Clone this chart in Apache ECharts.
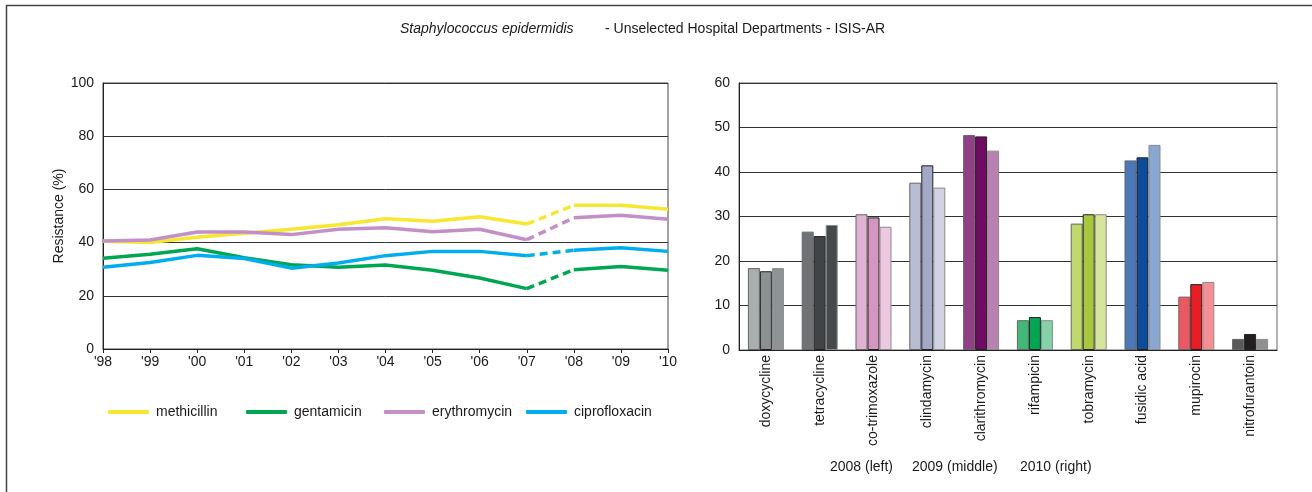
<!DOCTYPE html>
<html><head><meta charset="utf-8">
<script src="https://cdn.jsdelivr.net/npm/echarts@6/dist/echarts.min.js"></script>
<style>html,body{margin:0;padding:0;background:#fff}#c{width:1312px;height:492px}</style>
</head><body><div id="c"></div>
<script>
// ---- data ----
const years = ["'98","'99","'00","'01","'02","'03","'04","'05","'06","'07","'08","'09","'10"];
const drugNames = ['methicillin','gentamicin','erythromycin','ciprofloxacin'];
const methicillin   = [40.5,40.0,42.0,43.5,45.0,46.7,49.0,48.0,49.7,47.0,54.0,54.0,52.5];
const gentamicin    = [34.1,35.6,37.7,34.3,31.7,30.7,31.6,29.6,26.7,22.7,29.8,31.0,29.6];
const erythromycin  = [40.6,41.0,44.0,44.0,43.0,45.0,45.6,44.1,45.0,41.1,49.3,50.3,48.8];
const ciprofloxacin = [30.7,32.5,35.2,34.0,30.4,32.3,35.1,36.7,36.7,35.1,37.1,38.1,36.7];

const antibiotics = ['doxycycline','tetracycline','co-trimoxazole','clindamycin','clarithromycin','rifampicin','tobramycin','fusidic acid','mupirocin','nitrofurantoin'];
const yearLabels = ['2008','2009','2010'];
const r2008 = [18.4,26.6,30.5,37.6,48.3,6.7,28.4,42.6,12.0,2.5];
const r2009 = [17.7,25.6,29.8,41.5,48.0,7.4,30.5,43.3,14.8,3.6];
const r2010 = [18.4,28.1,27.7,36.5,44.8,6.7,30.5,46.1,15.3,2.5];

const leftTicks = [0,20,40,60,80,100];
const rightTicks = [0,10,20,30,40,50,60];

// ---- styles ----
const FONT = "'Liberation Sans', Arial, sans-serif";
const TXT = '#1a1a1a';
const lineColors = ['#f7e731','#00a651','#c290c6','#00aeef'];
const barPalette = [
  ['#a9aeae','#8b9192','#8e9496'],
  ['#707375','#404447','#46494c'],
  ['#e0b1d1','#d595c1','#ecc9e1'],
  ['#b9bdd4','#a2a8c6','#d1d3e2'],
  ['#913f87','#6f0b63','#b981b2'],
  ['#40b977','#00a651','#84d3a7'],
  ['#c1d96b','#a8c83c','#d6e59c'],
  ['#4b78b8','#0d4c9c','#88a7d1'],
  ['#ef5760','#ec1c24','#f58f94'],
  ['#5a5a5a','#231f20','#909090']
];
const barBorders = ['#666','#222','#8a8a8a'];

const chart = echarts.init(document.getElementById('c'), null, {renderer:'canvas'});
const drugData = [methicillin, gentamicin, erythromycin, ciprofloxacin];
const series = [];
drugData.forEach((vals, i) => {
  const name = drugNames[i];
  const style = {color: lineColors[i], width: 3.5};
  series.push({name, type:'line', xAxisIndex:0, yAxisIndex:0, symbol:'none', lineStyle:style, itemStyle:{color:lineColors[i]},
    data: vals.map((v,k)=> k<=9 ? v : null)});
  series.push({name, type:'line', xAxisIndex:0, yAxisIndex:0, symbol:'none', lineStyle:Object.assign({}, style, {type:[8,5]}),
    data: vals.map((v,k)=> (k===9||k===10) ? v : null)});
  series.push({name, type:'line', xAxisIndex:0, yAxisIndex:0, symbol:'none', lineStyle:style,
    data: vals.map((v,k)=> k>=10 ? v : null)});
});
[r2008, r2009, r2010].forEach((vals, j) => {
  series.push({name: yearLabels[j], type:'bar', xAxisIndex:1, yAxisIndex:1, barWidth:12, barGap:'0%',
    itemStyle:{color: p => barPalette[p.dataIndex][j], borderColor: barBorders[j], borderWidth:1},
    data: vals});
});

const legendLefts = [108, 246, 384, 526];
const legends = drugNames.map((n,i)=>({
  data:[n], left: legendLefts[i], top: 405, padding:0, icon:'roundRect', itemWidth:41, itemHeight:4, itemGap:0,
  textStyle:{fontFamily:FONT, fontSize:14, color:TXT, padding:[0,0,0,2]}, selectedMode:false
}));

const option = {
  animation:false,
  backgroundColor:'#fff',
  textStyle:{fontFamily:FONT},
  legend: legends,
  grid:[
    {left:103, right:644, top:83, bottom:143, show:true, borderColor:'#444', borderWidth:1, backgroundColor:'transparent'},
    {left:739, right:35, top:83, bottom:142, show:true, borderColor:'#666', borderWidth:1, backgroundColor:'transparent'}
  ],
  xAxis:[
    {type:'category', gridIndex:0, data:years, boundaryGap:false,
     axisLine:{lineStyle:{color:'#222'}}, axisTick:{length:4, lineStyle:{color:'#222'}},
     axisLabel:{color:TXT, fontSize:14, margin:6, fontFamily:FONT}, splitLine:{show:false}},
    {type:'category', gridIndex:1, data:antibiotics, boundaryGap:true,
     axisLine:{lineStyle:{color:'#222'}}, axisTick:{length:5, lineStyle:{color:'#222'}},
     axisLabel:{color:TXT, fontSize:14, rotate:90, margin:5, fontFamily:FONT, interval:0}, splitLine:{show:false}}
  ],
  yAxis:[
    {type:'value', gridIndex:0, min:leftTicks[0], max:leftTicks[leftTicks.length-1], interval:20,
     name:'Resistance (%)', nameLocation:'middle', nameGap:37, nameTextStyle:{color:TXT, fontSize:14, fontFamily:FONT},
     axisLine:{show:true, lineStyle:{color:'#222'}}, axisTick:{show:false},
     axisLabel:{color:TXT, fontSize:14, margin:9, fontFamily:FONT},
     splitLine:{lineStyle:{color:'#333', width:1}}},
    {type:'value', gridIndex:1, min:rightTicks[0], max:rightTicks[rightTicks.length-1], interval:10,
     axisLine:{show:true, lineStyle:{color:'#222'}}, axisTick:{show:false},
     axisLabel:{color:TXT, fontSize:14, margin:9, fontFamily:FONT},
     splitLine:{lineStyle:{color:'#333', width:1}}}
  ],
  graphic:[
    {type:'rect', shape:{x:6.5, y:5.5, width:1400, height:600}, style:{fill:'none', stroke:'#444', lineWidth:1.5}, silent:true},
    {type:'text', left:400, top:22, style:{text:'Staphylococcus epidermidis', font:'italic 14px '+FONT, fill:TXT}},
    {type:'text', left:605, top:22, style:{text:'- Unselected Hospital Departments - ISIS-AR', font:'14px '+FONT, fill:TXT}},
    {type:'text', left:830, top:460, style:{text:yearLabels[0]+' (left)', font:'14px '+FONT, fill:TXT}},
    {type:'text', left:912, top:460, style:{text:yearLabels[1]+' (middle)', font:'14px '+FONT, fill:TXT}},
    {type:'text', left:1020, top:460, style:{text:yearLabels[2]+' (right)', font:'14px '+FONT, fill:TXT}}
  ],
  series
};
chart.setOption(option);
</script>
</body></html>
